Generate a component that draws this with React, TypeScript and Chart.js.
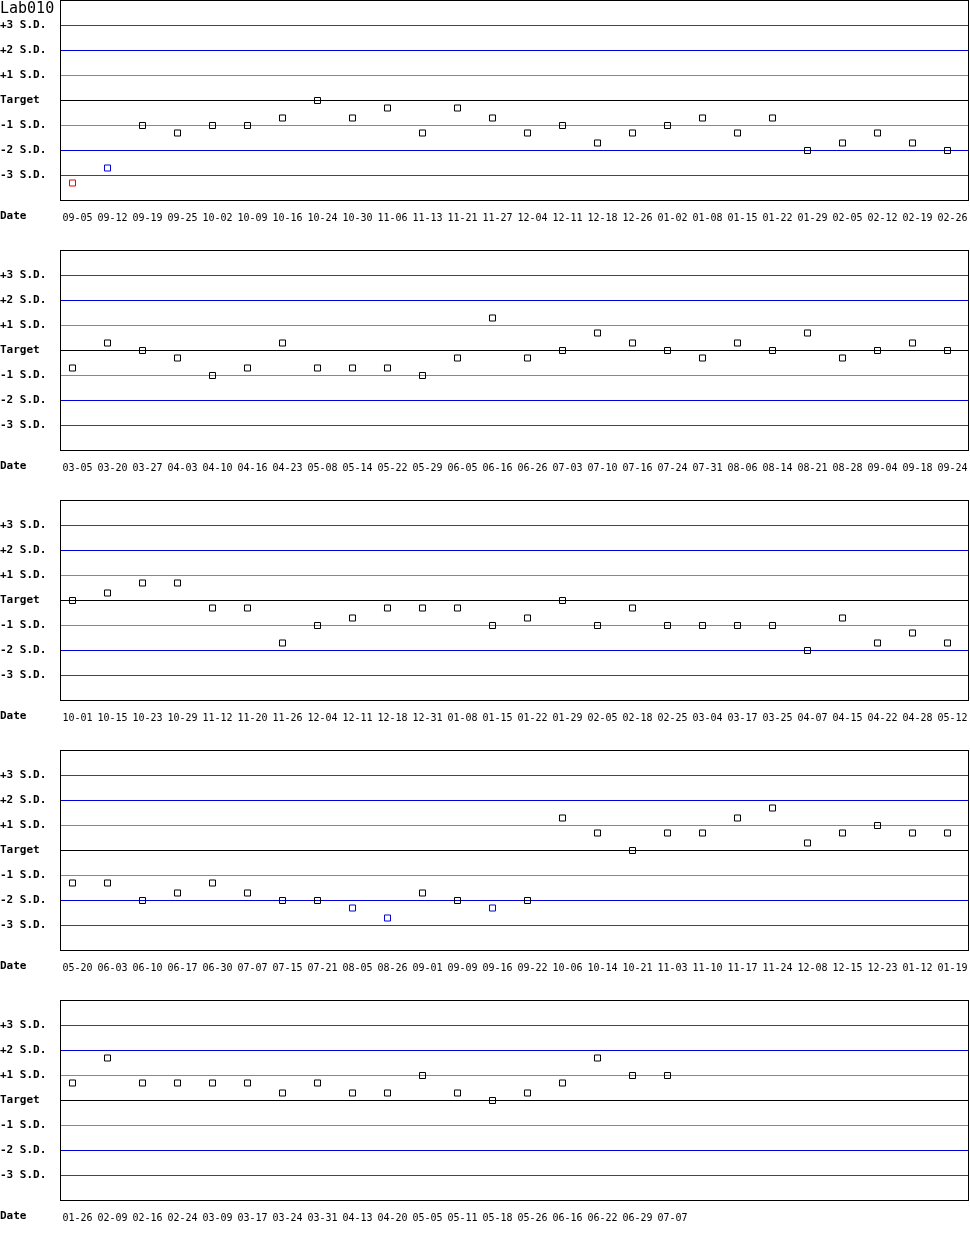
import React, { useEffect, useRef } from "react";
import { Chart, registerables } from "chart.js";

Chart.register(...registerables);

const chartTitle = "Lab010";
const axisTitle = "Date";
const sdLevels = [3, 2, 1, 0, -1, -2, -3];
const sdLabels = ["+3 S.D.", "+2 S.D.", "+1 S.D.", "Target", "-1 S.D.", "-2 S.D.", "-3 S.D."];
const slotsPerPanel = 26;

const dates1 = ["09-05", "09-12", "09-19", "09-25", "10-02", "10-09", "10-16", "10-24", "10-30", "11-06", "11-13", "11-21", "11-27", "12-04", "12-11", "12-18", "12-26", "01-02", "01-08", "01-15", "01-22", "01-29", "02-05", "02-12", "02-19", "02-26"];
const values1 = [-3.3, -2.7, -1.0, -1.3, -1.0, -1.0, -0.7, 0, -0.7, -0.3, -1.3, -0.3, -0.7, -1.3, -1.0, -1.7, -1.3, -1.0, -0.7, -1.3, -0.7, -2.0, -1.7, -1.3, -1.7, -2.0];

const dates2 = ["03-05", "03-20", "03-27", "04-03", "04-10", "04-16", "04-23", "05-08", "05-14", "05-22", "05-29", "06-05", "06-16", "06-26", "07-03", "07-10", "07-16", "07-24", "07-31", "08-06", "08-14", "08-21", "08-28", "09-04", "09-18", "09-24"];
const values2 = [-0.7, 0.3, 0, -0.3, -1.0, -0.7, 0.3, -0.7, -0.7, -0.7, -1.0, -0.3, 1.3, -0.3, 0, 0.7, 0.3, 0, -0.3, 0.3, 0, 0.7, -0.3, 0, 0.3, 0];

const dates3 = ["10-01", "10-15", "10-23", "10-29", "11-12", "11-20", "11-26", "12-04", "12-11", "12-18", "12-31", "01-08", "01-15", "01-22", "01-29", "02-05", "02-18", "02-25", "03-04", "03-17", "03-25", "04-07", "04-15", "04-22", "04-28", "05-12"];
const values3 = [0, 0.3, 0.7, 0.7, -0.3, -0.3, -1.7, -1.0, -0.7, -0.3, -0.3, -0.3, -1.0, -0.7, 0, -1.0, -0.3, -1.0, -1.0, -1.0, -1.0, -2.0, -0.7, -1.7, -1.3, -1.7];

const dates4 = ["05-20", "06-03", "06-10", "06-17", "06-30", "07-07", "07-15", "07-21", "08-05", "08-26", "09-01", "09-09", "09-16", "09-22", "10-06", "10-14", "10-21", "11-03", "11-10", "11-17", "11-24", "12-08", "12-15", "12-23", "01-12", "01-19"];
const values4 = [-1.3, -1.3, -2.0, -1.7, -1.3, -1.7, -2.0, -2.0, -2.3, -2.7, -1.7, -2.0, -2.3, -2.0, 1.3, 0.7, 0, 0.7, 0.7, 1.3, 1.7, 0.3, 0.7, 1.0, 0.7, 0.7];

const dates5 = ["01-26", "02-09", "02-16", "02-24", "03-09", "03-17", "03-24", "03-31", "04-13", "04-20", "05-05", "05-11", "05-18", "05-26", "06-16", "06-22", "06-29", "07-07"];
const values5 = [0.7, 1.7, 0.7, 0.7, 0.7, 0.7, 0.3, 0.7, 0.3, 0.3, 1.0, 0.3, 0, 0.3, 0.7, 1.7, 1.0, 1.0];

const panels = [
  { dates: dates1, values: values1 },
  { dates: dates2, values: values2 },
  { dates: dates3, values: values3 },
  { dates: dates4, values: values4 },
  { dates: dates5, values: values5 },
];

const RED = "#ee0000";
const BLUE = "#0000dd";
const GRAY = "#888888";
const BLACK = "#000000";

function levelColor(v: number) {
  const a = Math.abs(v);
  if (a === 3) return RED;
  if (a === 2) return BLUE;
  if (a === 1) return GRAY;
  return BLACK;
}

function pointColor(v: number) {
  const a = Math.abs(v);
  if (a > 3) return RED;
  if (a > 2) return BLUE;
  return BLACK;
}

const MONO = '"DejaVu Sans Mono", monospace';

function makeFramePlugin(showTitle: boolean) {
  return {
    id: "frame" + (showTitle ? "T" : ""),
    beforeDatasetsDraw(chart: any) {
      const { ctx, chartArea: a } = chart;
      const ys = chart.scales.y;
      ctx.save();
      ctx.lineWidth = 1;
      sdLevels.forEach((v) => {
        const py = Math.round(ys.getPixelForValue(v) - 0.5) + 0.5;
        ctx.strokeStyle = levelColor(v);
        ctx.beginPath();
        ctx.moveTo(a.left, py);
        ctx.lineTo(a.right, py);
        ctx.stroke();
      });
      ctx.restore();
    },
    afterDraw(chart: any) {
      const { ctx, chartArea: a } = chart;
      ctx.save();
      ctx.strokeStyle = BLACK;
      ctx.lineWidth = 1;
      ctx.strokeRect(a.left + 0.5, a.top, a.right - a.left, a.bottom - a.top);
      ctx.fillStyle = BLACK;
      ctx.textAlign = "left";
      ctx.textBaseline = "alphabetic";
      ctx.font = "bold 11px " + MONO;
      ctx.fillText(axisTitle, 0, a.bottom + 18.5);
      if (showTitle) {
        ctx.font = "15px " + MONO;
        ctx.fillText(chartTitle, 0, 13);
      }
      ctx.restore();
    },
  };
}

function Panel({ index }: { index: number }) {
  const ref = useRef<HTMLCanvasElement>(null);
  useEffect(() => {
    const p = panels[index];
    const chart = new Chart(ref.current as HTMLCanvasElement, {
      type: "scatter",
      data: {
        datasets: [
          {
            data: p.values.map((v, i) => ({ x: i, y: v })),
            showLine: false,
            clip: false,
            pointStyle: "rect",
            pointRadius: 4.243,
            pointBorderWidth: 1,
            pointBackgroundColor: "rgba(0,0,0,0)",
            pointBorderColor: (ctx: any) => pointColor(p.values[ctx.dataIndex]),
          },
        ],
      },
      plugins: [makeFramePlugin(index === 0)],
      options: {
        animation: false,
        responsive: false,
        devicePixelRatio: 1,
        events: [],
        layout: { autoPadding: false, padding: { top: 0.5, right: 2, left: 0, bottom: 0 } },
        plugins: { legend: { display: false }, tooltip: { enabled: false } },
        scales: {
          x: {
            type: "linear",
            min: -0.357,
            max: slotsPerPanel - 1 + 0.586,
            grid: { display: false },
            border: { display: false },
            afterBuildTicks: (axis: any) => {
              axis.ticks = p.dates.map((_, i) => ({ value: i }));
            },
            afterFit: (axis: any) => {
              axis.height = 49.5;
              axis.paddingLeft = 0;
              axis.paddingRight = 0;
              axis.paddingTop = 0;
              axis.paddingBottom = 0;
            },
            ticks: {
              autoSkip: false,
              maxRotation: 0,
              minRotation: 0,
              padding: 4,
              labelOffset: 5,
              color: BLACK,
              font: { family: MONO, size: 10 },
              callback: (value: any) => p.dates[value] ?? "",
            },
          },
          y: {
            type: "linear",
            min: -4,
            max: 4,
            border: { display: false },
            grid: { display: false, drawTicks: false },
            afterBuildTicks: (axis: any) => {
              axis.ticks = sdLevels.map((v) => ({ value: v }));
            },
            afterFit: (axis: any) => {
              axis.width = 60;
              axis.paddingLeft = 0;
              axis.paddingRight = 0;
              axis.paddingTop = 0;
              axis.paddingBottom = 0;
            },
            ticks: {
              crossAlign: "far",
              padding: 0,
              color: BLACK,
              font: { family: MONO, size: 11, weight: "bold" },
              callback: (value: any) => {
                const k = sdLevels.indexOf(value);
                return k >= 0 ? sdLabels[k] : "";
              },
            },
          },
        },
      } as any,
    });
    return () => chart.destroy();
  }, [index]);
  return (
    <canvas
      ref={ref}
      width={970}
      height={250}
      style={{ display: "block", width: 970, height: 250 }}
    />
  );
}

export default function App() {
  return (
    <div style={{ position: "absolute", left: 0, top: 0, width: 970, background: "#fff" }}>
      {panels.map((_, i) => (
        <Panel key={i} index={i} />
      ))}
    </div>
  );
}
